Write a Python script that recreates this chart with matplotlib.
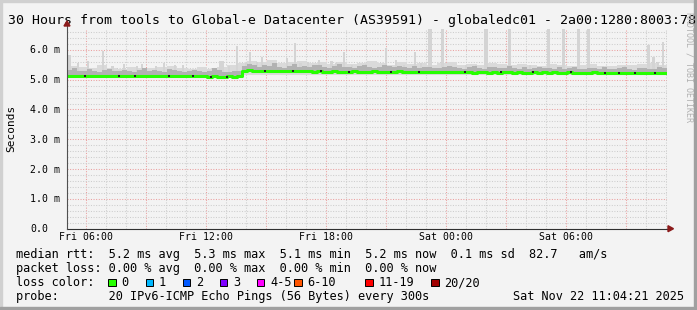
import matplotlib
matplotlib.use("Agg")
import matplotlib.pyplot as plt
import numpy as np
from matplotlib.patches import Rectangle, Polygon
from matplotlib.transforms import blended_transform_factory, offset_copy

# --- data (ms), 15 min steps starting Fri 05:04:21 ---
median_ms = [5.13,5.12,5.11,5.12,5.13,5.12,5.11,5.12,5.14,5.13,
             5.12,5.11,5.12,5.13,5.12,5.12,5.11,5.13,5.14,5.12,
             5.11,5.12,5.13,5.12,5.11,5.12,5.12,5.11,5.10,5.11,
             5.10,5.10,5.11,5.10,5.11,5.30,5.31,5.30,5.29,5.30,
             5.29,5.28,5.29,5.30,5.29,5.28,5.29,5.28,5.28,5.27,
             5.28,5.27,5.27,5.28,5.27,5.26,5.27,5.28,5.27,5.26,
             5.27,5.28,5.27,5.27,5.26,5.27,5.28,5.27,5.26,5.27,
             5.26,5.27,5.27,5.26,5.26,5.25,5.26,5.25,5.26,5.25,
             5.25,5.24,5.25,5.25,5.24,5.25,5.24,5.25,5.25,5.24,
             5.25,5.24,5.24,5.25,5.24,5.25,5.24,5.25,5.24,5.24,
             5.25,5.24,5.23,5.24,5.24,5.25,5.24,5.24,5.23,5.24,
             5.23,5.22,5.23,5.24,5.22,5.23,5.24,5.23,5.24,5.24]

smoke_lo = [5.07,5.07,5.06,5.07,5.08,5.07,5.06,5.07,5.08,5.08,
            5.07,5.06,5.07,5.08,5.07,5.07,5.06,5.07,5.08,5.07,
            5.06,5.07,5.08,5.07,5.06,5.07,5.07,5.06,5.05,5.06,
            5.05,5.05,5.06,5.05,5.06,5.25,5.26,5.25,5.24,5.25,
            5.24,5.23,5.24,5.25,5.24,5.23,5.24,5.23,5.23,5.22,
            5.23,5.22,5.22,5.23,5.22,5.21,5.22,5.23,5.22,5.21,
            5.22,5.23,5.22,5.22,5.21,5.22,5.23,5.22,5.21,5.22,
            5.21,5.22,5.22,5.21,5.21,5.20,5.21,5.20,5.21,5.20,
            5.20,5.19,5.20,5.20,5.19,5.20,5.19,5.20,5.20,5.19,
            5.20,5.19,5.19,5.20,5.19,5.20,5.19,5.20,5.19,5.19,
            5.20,5.19,5.18,5.19,5.19,5.20,5.19,5.19,5.18,5.19,
            5.18,5.17,5.18,5.19,5.17,5.18,5.19,5.18,5.19,5.19]

smoke_mid = [5.32,5.38,5.30,5.28,5.35,5.30,5.27,5.33,5.36,5.30,
             5.28,5.34,5.30,5.27,5.31,5.38,5.29,5.33,5.30,5.27,
             5.35,5.31,5.28,5.26,5.30,5.34,5.28,5.26,5.30,5.38,
             5.32,5.27,5.25,5.30,5.28,5.45,5.52,5.48,5.42,5.50,
             5.46,5.55,5.44,5.40,5.47,5.52,5.43,5.45,5.41,5.48,
             5.50,5.44,5.40,5.46,5.52,5.43,5.41,5.38,5.45,5.49,
             5.42,5.40,5.44,5.50,5.46,5.41,5.47,5.43,5.40,5.45,
             5.39,5.42,5.44,5.40,5.38,5.43,5.47,5.41,5.39,5.36,
             5.42,5.45,5.40,5.37,5.41,5.44,5.38,5.40,5.46,5.39,
             5.37,5.41,5.36,5.39,5.42,5.38,5.40,5.37,5.41,5.36,
             5.39,5.43,5.37,5.35,5.40,5.38,5.36,5.41,5.37,5.35,
             5.39,5.42,5.36,5.34,5.38,5.40,5.37,5.35,5.41,5.38]

# light smoke, 30 min steps
smoke_top = [5.45,5.42,5.40,5.48,5.38,5.36,5.44,5.40,5.38,5.42,
             5.46,5.39,5.37,5.41,5.36,5.44,5.50,5.55,5.62,5.58,
             5.66,5.55,5.60,5.64,5.56,5.58,5.52,5.60,5.54,5.57,
             5.62,5.55,5.50,5.58,5.53,5.56,5.51,5.55,5.58,5.50,
             5.53,5.48,5.55,5.52,5.49,5.54,5.50,5.47,5.52,5.49,
             5.46,5.50,5.53,5.47,5.45,5.50,5.48,5.52,5.56,5.50]

# single ping outliers: hour, max rtt, width (h)
spike_hour = [0.10, 0.55, 1.05, 1.80, 2.25, 2.85, 3.50, 3.75, 4.45, 4.85,
              5.40, 5.80, 7.70, 8.10, 8.50, 8.95, 9.15, 9.50, 9.75, 10.40,
              11.00, 11.40, 11.65, 12.05, 12.60, 13.20, 13.45, 13.85, 14.25, 14.95,
              15.95, 16.45, 16.85, 17.40, 17.70, 18.15, 18.75, 19.25, 19.95, 20.45,
              20.95, 22.10, 23.15, 24.05, 24.80, 25.55, 26.05, 26.80, 27.90, 29.05,
              29.30, 29.55, 29.80]
spike_max = [5.83, 5.55, 5.62, 5.97, 5.45, 5.52, 5.45, 5.52, 5.46, 5.57,
             5.50, 5.48, 5.62, 5.45, 6.12, 5.55, 5.94, 5.60, 5.75, 5.50,
             5.72, 6.22, 5.55, 5.60, 5.65, 5.62, 5.55, 5.94, 5.50, 5.52,
             6.05, 5.66, 5.50, 5.94, 5.55, 6.80, 6.80, 5.45, 5.50, 5.50,
             6.80, 6.80, 5.50, 6.80, 6.80, 6.80, 6.80, 5.45, 5.45, 6.17,
             5.77, 5.60, 6.27]
spike_w = [0.15, 0.1, 0.1, 0.08, 0.15, 0.1, 0.1, 0.1, 0.1, 0.1,
           0.1, 0.1, 0.25, 0.1, 0.08, 0.15, 0.1, 0.1, 0.1, 0.1,
           0.1, 0.1, 0.15, 0.1, 0.1, 0.15, 0.1, 0.1, 0.1, 0.1,
           0.1, 0.1, 0.1, 0.1, 0.1, 0.2, 0.15, 0.1, 0.1, 0.1,
           0.2, 0.15, 0.1, 0.15, 0.15, 0.15, 0.15, 0.1, 0.1, 0.15,
           0.15, 0.1, 0.1]

# dark single pings sitting on the median line (hour)
dark_dot_hour = [0.9, 2.6, 3.4, 5.1, 6.3, 7.2, 8.0, 9.9, 11.3, 12.7,
                 14.1, 16.2, 17.6, 19.9, 21.7, 23.3, 25.2, 26.9, 27.6, 28.4, 29.4]

loss_labels = ["0", "1", "2", "3", "4-5", "6-10", "11-19", "20/20"]
loss_colors = ["#26ff00", "#00b8ff", "#0059ff", "#7e00ff", "#ff00ff",
               "#ff5500", "#ff0000", "#a10000"]
loss_box_x = [108, 145.5, 182.5, 219.5, 256.5, 294, 365, 431]

xtick_labels = ["Fri 06:00", "Fri 12:00", "Fri 18:00", "Sat 00:00", "Sat 06:00"]
ytick_labels = ["0.0", "1.0 m", "2.0 m", "3.0 m", "4.0 m", "5.0 m", "6.0 m"]

W, H = 697, 310
BG = "#f3f3f3"
MONO = "DejaVu Sans Mono"

def fx(x):
    return x / W

def fy(y):
    return 1 - y / H

fig = plt.figure(figsize=(W / 100, H / 100), dpi=100, facecolor=BG)

# frame of the image
fig.patches.append(Rectangle((0, fy(2)), 1, 2 / H, transform=fig.transFigure, color="#d0d0d0", zorder=0))
fig.patches.append(Rectangle((0, 0), 2 / W, 1, transform=fig.transFigure, color="#d0d0d0", zorder=0))
fig.patches.append(Rectangle((0, 0), 1, 3 / H, transform=fig.transFigure, color="#a0a0a0", zorder=0))
fig.patches.append(Rectangle((fx(W - 3), 0), 3 / W, 1, transform=fig.transFigure, color="#a0a0a0", zorder=0))

y0px, pxper = 228.7, 29.8
ymax = 6.7
ax = fig.add_axes([fx(67), fy(y0px), 600 / W, ymax * pxper / H])
ax.set_facecolor(BG)
ax.set_xlim(0, 30)
ax.set_ylim(0, ymax)
for s in ax.spines.values():
    s.set_visible(False)

# grid
h0 = (60 - 4 - 21 / 60) / 60   # first 06:00 after start
ax.set_xticks([h0 + 3 * k for k in range(10)])
ax.set_xticks([h0 + k for k in range(30)], minor=True)
ax.set_yticks(range(7))
ax.set_yticks(np.arange(0, 6.7, 0.2), minor=True)
ax.tick_params(which="both", length=0, labelleft=False, labelbottom=False)
ax.grid(which="minor", color="#cdcdcd", linestyle=(0, (1, 1.5)), linewidth=0.75)
ax.grid(which="major", color="#eba0a0", linestyle=(0, (1, 1.5)), linewidth=0.75)
ax.set_axisbelow(True)

# smoke + median
t15 = np.arange(len(median_ms)) * 0.25
t15e = np.append(t15, 30)
t30 = np.arange(len(smoke_top)) * 0.5
t30e = np.append(t30, 30)
lo_e = np.append(smoke_lo, smoke_lo[-1])
mid_e = np.append(smoke_mid, smoke_mid[-1])
med_e = np.append(median_ms, median_ms[-1])
top_e = np.append(smoke_top, smoke_top[-1])

ax.fill_between(t30e, 5.15, top_e, step="post", color="#dadada", linewidth=0, zorder=2)
ax.bar(spike_hour, np.array(spike_max) - 5.25, bottom=5.25, width=spike_w,
       color="#d4d4d4", linewidth=0, zorder=2)
ax.fill_between(t15e, lo_e, mid_e, step="post", color="#b2b2b2", linewidth=0, zorder=3)
ax.fill_between(t15e, lo_e, med_e, step="post", color="#606060", linewidth=0, zorder=3)
ax.step(t15e, med_e, where="post", color="#26ff00", linewidth=2.2, zorder=5)
dot_med = np.interp(dark_dot_hour, t15 + 0.125, median_ms)
ax.scatter(dark_dot_hour, dot_med, marker="s", s=3.5, color="#202020", linewidths=0, zorder=6)

# axis lines + arrows
ax.plot([0, 1.003], [0, 0], transform=ax.transAxes, color="#303030", lw=0.8, clip_on=False, zorder=6)
ax.plot([0, 0], [0, 1.02], transform=ax.transAxes, color="#505050", lw=0.8, clip_on=False, zorder=6)
fig.patches.append(Polygon([(fx(64), fy(26)), (fx(70), fy(26)), (fx(67), fy(21))],
                           closed=True, transform=fig.transFigure, color="#8b1a1a", zorder=7))
fig.patches.append(Polygon([(fx(668), fy(y0px - 3)), (fx(668), fy(y0px + 3)), (fx(673.5), fy(y0px))],
                           closed=True, transform=fig.transFigure, color="#8b1a1a", zorder=7))

# tick labels
ytrans = offset_copy(blended_transform_factory(fig.transFigure, ax.transData), fig=fig, y=-3.5, units="dots")
for v, lab in enumerate(ytick_labels):
    ax.text(fx(30), v, lab, transform=ytrans, ha="left", va="baseline",
            family=MONO, fontsize=7.1, color="#000000")
xtrans = blended_transform_factory(ax.transData, fig.transFigure)
for k, lab in enumerate(xtick_labels):
    ax.text(h0 + 6 * k, fy(240.5), lab, transform=xtrans, ha="center", va="baseline",
            family=MONO, fontsize=7.1, color="#000000")

fig.text(fx(11), fy(128), "Seconds", rotation=90, ha="center", va="center",
         family=MONO, fontsize=8, color="#000000")

# title
fig.text(fx(8), fy(24), "30 Hours from tools to Global-e Datacenter (AS39591) - globaledc01 - 2a00:1280:8003:78",
         ha="left", va="baseline", family=MONO, fontsize=9.5, color="#000000")

fig.text(fx(689.5), fy(12), "RRDTOOL / TOBI OETIKER", rotation=270, ha="center", va="top",
         family=MONO, fontsize=6, color="#b0b0b0")

# legend
leg = dict(ha="left", va="baseline", family=MONO, fontsize=8.6, color="#000000")
fig.text(fx(16), fy(258), "median rtt:  5.2 ms avg  5.3 ms max  5.1 ms min  5.2 ms now  0.1 ms sd  82.7   am/s", **leg)
fig.text(fx(16), fy(272), "packet loss: 0.00 % avg  0.00 % max  0.00 % min  0.00 % now", **leg)
fig.text(fx(16), fy(286), "loss color:", **leg)
for bx, c, lab in zip(loss_box_x, loss_colors, loss_labels):
    fig.patches.append(Rectangle((fx(bx), fy(286)), 7.5 / W, 7.5 / H, transform=fig.transFigure,
                                 facecolor=c, edgecolor="#000000", linewidth=0.7, zorder=5))
    fig.text(fx(bx + 13.5), fy(286), lab, **leg)
fig.text(fx(16), fy(300), "probe:       20 IPv6-ICMP Echo Pings (56 Bytes) every 300s", **leg)
fig.text(fx(513), fy(300), "Sat Nov 22 11:04:21 2025", **leg)

fig.savefig("out.png", dpi=100, facecolor=BG)
